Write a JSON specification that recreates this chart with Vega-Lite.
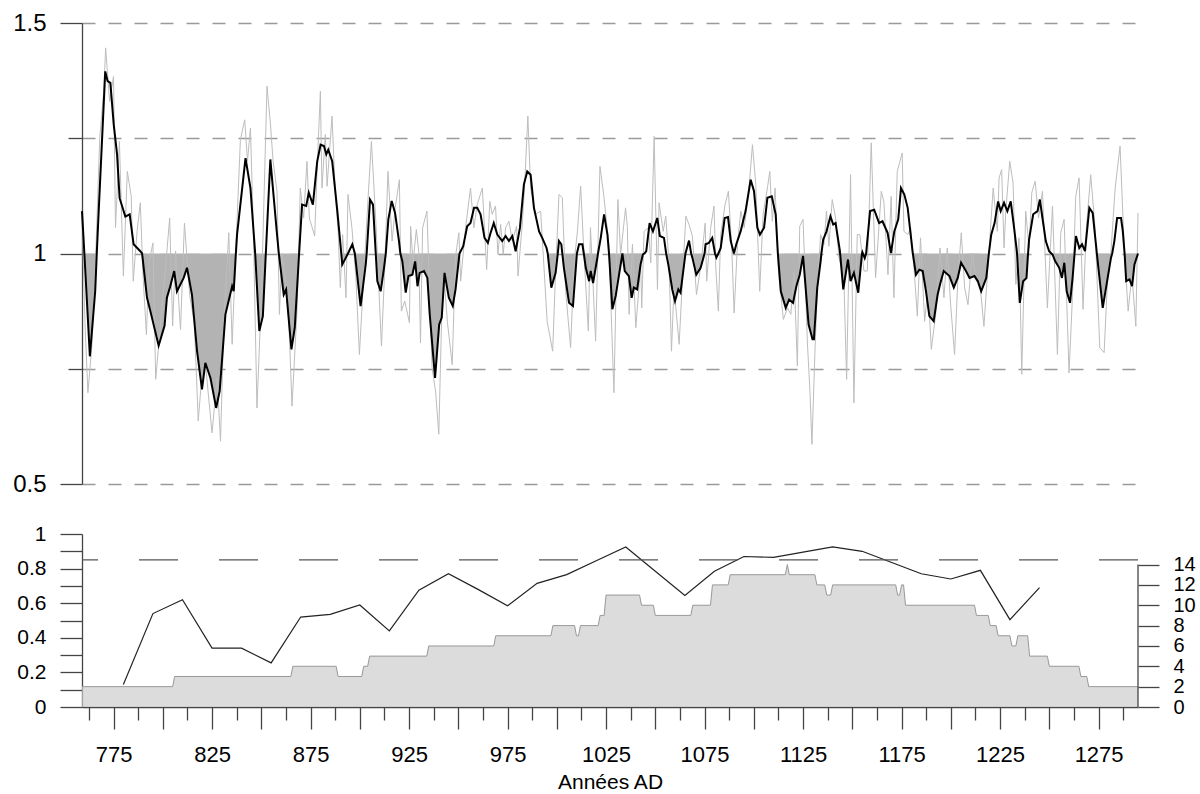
{
"$schema": "https://vega.github.io/schema/vega-lite/v6.json",
"background": "white",
"padding": {"left": 12, "top": 11, "right": 5, "bottom": 2},
"config": {"view": {"stroke": null}, "font": "Liberation Sans",
  "axis": {"labelFont": "Liberation Sans", "titleFont": "Liberation Sans", "labelColor": "#000", "titleColor": "#000", "domainColor": "#444", "tickColor": "#444", "domainWidth": 1.3, "tickWidth": 1.3, "grid": false, "labelOverlap": false, "labelFlush": false, "titleFontWeight": "normal"}},
"spacing": 50,
"bounds": "flush",
"datasets": {
"smooth": [
{"x":759,"s":1.092,"f":1},{"x":760.2,"s":1.0,"f":1},{"x":763,"s":0.777,"f":0.777},{"x":765.7,"s":0.918,"f":0.918},{"x":766.5,"s":1.0,"f":1},{"x":767.4,"s":1.085,"f":1},{"x":770.8,"s":1.395,"f":1},{"x":772,"s":1.374,"f":1},{"x":773.4,"s":1.37,"f":1},{"x":775.1,"s":1.28,"f":1},{"x":776.8,"s":1.215,"f":1},{"x":778.1,"s":1.12,"f":1},{"x":781,"s":1.08,"f":1},{"x":783.2,"s":1.085,"f":1},{"x":785.2,"s":1.02,"f":1},{"x":788.6,"s":1.005,"f":1},{"x":789.5,"s":1.0,"f":1},{"x":792,"s":0.904,"f":0.904},{"x":793.7,"s":0.875,"f":0.875},{"x":797.9,"s":0.8,"f":0.8},{"x":800.9,"s":0.843,"f":0.843},{"x":802.1,"s":0.904,"f":0.904},{"x":803.8,"s":0.929,"f":0.929},{"x":805.8,"s":0.962,"f":0.962},{"x":807.2,"s":0.918,"f":0.918},{"x":810.6,"s":0.947,"f":0.947},{"x":812.3,"s":0.969,"f":0.969},{"x":814.8,"s":0.911,"f":0.911},{"x":817.4,"s":0.788,"f":0.788},{"x":819.9,"s":0.705,"f":0.705},{"x":821.6,"s":0.763,"f":0.763},{"x":824.2,"s":0.73,"f":0.73},{"x":827.1,"s":0.665,"f":0.665},{"x":828.9,"s":0.702,"f":0.702},{"x":831.8,"s":0.868,"f":0.868},{"x":835.2,"s":0.929,"f":0.929},{"x":836,"s":0.918,"f":0.918},{"x":837.1,"s":1.0,"f":1},{"x":837.7,"s":1.041,"f":1},{"x":842,"s":1.207,"f":1},{"x":844.5,"s":1.142,"f":1},{"x":846.9,"s":1.0,"f":1},{"x":849,"s":0.832,"f":0.832},{"x":850.8,"s":0.864,"f":0.864},{"x":852.3,"s":1.0,"f":1},{"x":854.6,"s":1.204,"f":1},{"x":858,"s":1.041,"f":1},{"x":858.9,"s":1.0,"f":1},{"x":861.4,"s":0.911,"f":0.911},{"x":862.6,"s":0.922,"f":0.922},{"x":865.3,"s":0.792,"f":0.792},{"x":867,"s":0.839,"f":0.839},{"x":869.2,"s":1.0,"f":1},{"x":870.7,"s":1.106,"f":1},{"x":872.8,"s":1.103,"f":1},{"x":874.1,"s":1.132,"f":1},{"x":876.2,"s":1.106,"f":1},{"x":878.4,"s":1.2,"f":1},{"x":880.1,"s":1.236,"f":1},{"x":881.8,"s":1.233,"f":1},{"x":883,"s":1.215,"f":1},{"x":884,"s":1.225,"f":1},{"x":886,"s":1.2,"f":1},{"x":888.6,"s":1.092,"f":1},{"x":890.6,"s":1.0,"f":1},{"x":891.1,"s":0.976,"f":0.976},{"x":892.8,"s":0.99,"f":0.99},{"x":894,"s":1.0,"f":1},{"x":896.2,"s":1.02,"f":1},{"x":897.5,"s":1.0,"f":1},{"x":900.4,"s":0.886,"f":0.886},{"x":903,"s":0.976,"f":0.976},{"x":903.5,"s":1.0,"f":1},{"x":905.2,"s":1.117,"f":1},{"x":906.7,"s":1.106,"f":1},{"x":908.1,"s":1.0,"f":1},{"x":908.9,"s":0.94,"f":0.94},{"x":910.6,"s":0.918,"f":0.918},{"x":912.3,"s":0.969,"f":0.969},{"x":913.2,"s":1.0,"f":1},{"x":914.5,"s":1.074,"f":1},{"x":916.2,"s":1.114,"f":1},{"x":917.9,"s":1.088,"f":1},{"x":919.9,"s":1.027,"f":1},{"x":920.6,"s":1.0,"f":1},{"x":921.6,"s":0.983,"f":0.983},{"x":923.3,"s":0.915,"f":0.915},{"x":924.7,"s":0.951,"f":0.951},{"x":926.7,"s":0.954,"f":0.954},{"x":928.1,"s":0.983,"f":0.983},{"x":929.3,"s":0.929,"f":0.929},{"x":930.4,"s":0.958,"f":0.958},{"x":932.6,"s":0.962,"f":0.962},{"x":934.3,"s":0.947,"f":0.947},{"x":935.5,"s":0.868,"f":0.868},{"x":938.2,"s":0.73,"f":0.73},{"x":940.3,"s":0.846,"f":0.846},{"x":941.6,"s":0.861,"f":0.861},{"x":943,"s":0.958,"f":0.958},{"x":945.2,"s":0.904,"f":0.904},{"x":947.2,"s":0.886,"f":0.886},{"x":948.6,"s":0.922,"f":0.922},{"x":950.6,"s":1.0,"f":1},{"x":952.5,"s":1.016,"f":1},{"x":954.5,"s":1.059,"f":1},{"x":956.2,"s":1.066,"f":1},{"x":958,"s":1.099,"f":1},{"x":959.6,"s":1.099,"f":1},{"x":961.3,"s":1.085,"f":1},{"x":963.3,"s":1.034,"f":1},{"x":965,"s":1.023,"f":1},{"x":966.4,"s":1.045,"f":1},{"x":968,"s":1.066,"f":1},{"x":969.8,"s":1.041,"f":1},{"x":972.3,"s":1.027,"f":1},{"x":974,"s":1.038,"f":1},{"x":975.7,"s":1.027,"f":1},{"x":977.4,"s":1.038,"f":1},{"x":979.1,"s":1.005,"f":1},{"x":981.3,"s":1.056,"f":1},{"x":983.3,"s":1.15,"f":1},{"x":985,"s":1.178,"f":1},{"x":986.7,"s":1.171,"f":1},{"x":988.4,"s":1.099,"f":1},{"x":991,"s":1.048,"f":1},{"x":992.6,"s":1.034,"f":1},{"x":994.8,"s":1.012,"f":1},{"x":995.4,"s":1.0,"f":1},{"x":997.2,"s":0.926,"f":0.926},{"x":999.4,"s":0.958,"f":0.958},{"x":1000.5,"s":1.0,"f":1},{"x":1001.1,"s":1.027,"f":1},{"x":1002.3,"s":1.02,"f":1},{"x":1002.8,"s":1.0,"f":1},{"x":1003.6,"s":0.969,"f":0.969},{"x":1006.2,"s":0.893,"f":0.893},{"x":1008.2,"s":0.886,"f":0.886},{"x":1010.2,"s":1.0,"f":1},{"x":1011.3,"s":1.02,"f":1},{"x":1013,"s":1.02,"f":1},{"x":1013.7,"s":1.0,"f":1},{"x":1014.7,"s":0.969,"f":0.969},{"x":1016.4,"s":0.94,"f":0.94},{"x":1017.2,"s":0.962,"f":0.962},{"x":1018.4,"s":0.936,"f":0.936},{"x":1020.6,"s":0.991,"f":0.991},{"x":1020.9,"s":1.0,"f":1},{"x":1022.3,"s":1.034,"f":1},{"x":1024,"s":1.085,"f":1},{"x":1025.7,"s":1.041,"f":1},{"x":1026.5,"s":1.0,"f":1},{"x":1028.2,"s":0.879,"f":0.879},{"x":1029.9,"s":0.908,"f":0.908},{"x":1031.6,"s":0.954,"f":0.954},{"x":1033.3,"s":1.0,"f":1},{"x":1034.5,"s":0.962,"f":0.962},{"x":1036.6,"s":0.951,"f":0.951},{"x":1038,"s":0.904,"f":0.904},{"x":1039.1,"s":0.926,"f":0.926},{"x":1040.8,"s":0.922,"f":0.922},{"x":1042.5,"s":0.976,"f":0.976},{"x":1043.7,"s":0.998,"f":0.998},{"x":1044.5,"s":1.0,"f":1},{"x":1045.4,"s":1.005,"f":1},{"x":1047.1,"s":1.066,"f":1},{"x":1048.8,"s":1.048,"f":1},{"x":1051,"s":1.077,"f":1},{"x":1052.3,"s":1.038,"f":1},{"x":1054.4,"s":1.034,"f":1},{"x":1055.5,"s":1.0,"f":1},{"x":1056.6,"s":0.976,"f":0.976},{"x":1058.6,"s":0.922,"f":0.922},{"x":1060,"s":0.897,"f":0.897},{"x":1061.7,"s":0.922,"f":0.922},{"x":1062.8,"s":0.915,"f":0.915},{"x":1065.3,"s":1.0,"f":1},{"x":1067.1,"s":1.028,"f":1},{"x":1068.2,"s":1.0,"f":1},{"x":1068.8,"s":0.991,"f":0.991},{"x":1070.8,"s":0.954,"f":0.954},{"x":1073,"s":0.969,"f":0.969},{"x":1075,"s":1.0,"f":1},{"x":1075.5,"s":1.02,"f":1},{"x":1077.2,"s":1.023,"f":1},{"x":1078.9,"s":1.034,"f":1},{"x":1080.3,"s":1.0,"f":1},{"x":1081,"s":0.991,"f":0.991},{"x":1082,"s":1.0,"f":1},{"x":1083.2,"s":1.012,"f":1},{"x":1085.2,"s":1.077,"f":1},{"x":1086.9,"s":1.079,"f":1},{"x":1088.3,"s":1.027,"f":1},{"x":1089.9,"s":1.0,"f":1},{"x":1091.1,"s":1.02,"f":1},{"x":1093.3,"s":1.048,"f":1},{"x":1095.8,"s":1.092,"f":1},{"x":1098.4,"s":1.16,"f":1},{"x":1100.1,"s":1.135,"f":1},{"x":1101.8,"s":1.056,"f":1},{"x":1103.1,"s":1.041,"f":1},{"x":1105.2,"s":1.056,"f":1},{"x":1106.9,"s":1.121,"f":1},{"x":1109.1,"s":1.124,"f":1},{"x":1111.1,"s":1.085,"f":1},{"x":1112.2,"s":1.0,"f":1},{"x":1113.7,"s":0.918,"f":0.918},{"x":1116.2,"s":0.882,"f":0.882},{"x":1117.9,"s":0.9,"f":0.9},{"x":1119.9,"s":0.893,"f":0.893},{"x":1121.6,"s":0.929,"f":0.929},{"x":1123.3,"s":0.954,"f":0.954},{"x":1125,"s":0.995,"f":0.995},{"x":1127.8,"s":0.846,"f":0.846},{"x":1129.8,"s":0.814,"f":0.814},{"x":1130.5,"s":0.814,"f":0.814},{"x":1132.2,"s":0.926,"f":0.926},{"x":1133.9,"s":0.983,"f":0.983},{"x":1134.3,"s":1.0,"f":1},{"x":1135.2,"s":1.03,"f":1},{"x":1136.9,"s":1.048,"f":1},{"x":1138.9,"s":1.081,"f":1},{"x":1140.3,"s":1.063,"f":1},{"x":1141.5,"s":1.066,"f":1},{"x":1143.7,"s":1.005,"f":1},{"x":1143.8,"s":1.0,"f":1},{"x":1145.4,"s":0.922,"f":0.922},{"x":1147.8,"s":0.987,"f":0.987},{"x":1149.1,"s":0.94,"f":0.94},{"x":1150.8,"s":0.958,"f":0.958},{"x":1153,"s":0.915,"f":0.915},{"x":1154.9,"s":1.0,"f":1},{"x":1155.1,"s":1.003,"f":1},{"x":1156.3,"s":0.99,"f":0.99},{"x":1157,"s":1.0,"f":1},{"x":1159,"s":1.092,"f":1},{"x":1161.1,"s":1.095,"f":1},{"x":1163.6,"s":1.066,"f":1},{"x":1165.3,"s":1.07,"f":1},{"x":1167.9,"s":1.045,"f":1},{"x":1169.6,"s":1.001,"f":1},{"x":1171.3,"s":1.048,"f":1},{"x":1173.3,"s":1.074,"f":1},{"x":1174.7,"s":1.142,"f":1},{"x":1176.4,"s":1.128,"f":1},{"x":1178.1,"s":1.099,"f":1},{"x":1179.8,"s":1.034,"f":1},{"x":1180.7,"s":1.0,"f":1},{"x":1182.3,"s":0.954,"f":0.954},{"x":1184,"s":0.965,"f":0.965},{"x":1185.7,"s":0.962,"f":0.962},{"x":1187.4,"s":0.918,"f":0.918},{"x":1189.1,"s":0.864,"f":0.864},{"x":1191.3,"s":0.853,"f":0.853},{"x":1193.3,"s":0.911,"f":0.911},{"x":1194.7,"s":0.936,"f":0.936},{"x":1196.4,"s":0.962,"f":0.962},{"x":1199.3,"s":0.951,"f":0.951},{"x":1201.5,"s":0.926,"f":0.926},{"x":1203.5,"s":0.947,"f":0.947},{"x":1205.2,"s":0.98,"f":0.98},{"x":1207.3,"s":0.965,"f":0.965},{"x":1209.5,"s":0.947,"f":0.947},{"x":1212,"s":0.951,"f":0.951},{"x":1213.7,"s":0.94,"f":0.94},{"x":1215.4,"s":0.918,"f":0.918},{"x":1218,"s":0.947,"f":0.947},{"x":1219.3,"s":1.0,"f":1},{"x":1220.5,"s":1.041,"f":1},{"x":1222.2,"s":1.066,"f":1},{"x":1224,"s":1.113,"f":1},{"x":1225.3,"s":1.092,"f":1},{"x":1227,"s":1.11,"f":1},{"x":1228.7,"s":1.092,"f":1},{"x":1230.4,"s":1.113,"f":1},{"x":1232.1,"s":1.056,"f":1},{"x":1233.3,"s":1.012,"f":1},{"x":1233.6,"s":1.0,"f":1},{"x":1235,"s":0.893,"f":0.893},{"x":1236.7,"s":0.94,"f":0.94},{"x":1238.4,"s":0.947,"f":0.947},{"x":1239.2,"s":1.0,"f":1},{"x":1239.7,"s":1.03,"f":1},{"x":1241.8,"s":1.085,"f":1},{"x":1244,"s":1.092,"f":1},{"x":1245.2,"s":1.117,"f":1},{"x":1246.5,"s":1.077,"f":1},{"x":1248.2,"s":1.027,"f":1},{"x":1249.9,"s":1.005,"f":1},{"x":1251,"s":1.0,"f":1},{"x":1251.6,"s":0.998,"f":0.998},{"x":1253,"s":0.983,"f":0.983},{"x":1255,"s":0.969,"f":0.969},{"x":1256.4,"s":0.947,"f":0.947},{"x":1257.6,"s":0.98,"f":0.98},{"x":1258.8,"s":0.918,"f":0.918},{"x":1260.5,"s":0.893,"f":0.893},{"x":1261.8,"s":0.947,"f":0.947},{"x":1262.8,"s":1.0,"f":1},{"x":1263.5,"s":1.038,"f":1},{"x":1265.2,"s":1.012,"f":1},{"x":1266.6,"s":1.02,"f":1},{"x":1268.1,"s":1.005,"f":1},{"x":1270.3,"s":1.099,"f":1},{"x":1272,"s":1.088,"f":1},{"x":1274,"s":1.005,"f":1},{"x":1274.1,"s":1.0,"f":1},{"x":1277.1,"s":0.882,"f":0.882},{"x":1279.6,"s":0.947,"f":0.947},{"x":1281.3,"s":0.991,"f":0.991},{"x":1281.9,"s":1.0,"f":1},{"x":1283,"s":1.027,"f":1},{"x":1284.4,"s":1.077,"f":1},{"x":1286.4,"s":1.077,"f":1},{"x":1287.3,"s":1.048,"f":1},{"x":1288.2,"s":1.0,"f":1},{"x":1289,"s":0.94,"f":0.94},{"x":1290.7,"s":0.944,"f":0.944},{"x":1292,"s":0.929,"f":0.929},{"x":1293.2,"s":0.976,"f":0.976},{"x":1295,"s":1.0,"f":1}
],
"annual": [
{"x":759,"v":1.09},{"x":760.5,"v":0.85},{"x":762,"v":0.698},{"x":764,"v":0.8},{"x":766,"v":1.0},{"x":768,"v":1.25},{"x":770,"v":1.35},{"x":771,"v":1.446},{"x":773,"v":1.33},{"x":775,"v":1.384},{"x":776,"v":1.056},{"x":778,"v":1.243},{"x":780,"v":0.951},{"x":782,"v":1.178},{"x":784,"v":1.124},{"x":785,"v":0.94},{"x":787,"v":1.05},{"x":788.6,"v":1.11},{"x":790,"v":0.95},{"x":791.7,"v":0.824},{"x":793,"v":0.98},{"x":795,"v":1.023},{"x":796.4,"v":0.727},{"x":799,"v":0.853},{"x":801,"v":0.95},{"x":803.5,"v":1.077},{"x":805,"v":0.843},{"x":806.5,"v":1.005},{"x":809,"v":0.835},{"x":811,"v":1.066},{"x":813.7,"v":0.908},{"x":816,"v":0.85},{"x":818,"v":0.637},{"x":819.6,"v":0.723},{"x":821.6,"v":0.767},{"x":823,"v":0.7},{"x":825,"v":0.611},{"x":827.6,"v":0.73},{"x":829.3,"v":0.593},{"x":831,"v":0.85},{"x":833.5,"v":1.045},{"x":835.2,"v":0.803},{"x":837,"v":1.0},{"x":839.4,"v":1.247},{"x":841.6,"v":1.29},{"x":843,"v":1.2},{"x":844.5,"v":1.272},{"x":846,"v":1.05},{"x":847.8,"v":0.665},{"x":850,"v":0.9},{"x":852.9,"v":1.363},{"x":854.6,"v":1.283},{"x":856,"v":1.2},{"x":858,"v":1.135},{"x":859.2,"v":0.868},{"x":860.5,"v":1.0},{"x":862.2,"v":0.947},{"x":864,"v":0.85},{"x":865.6,"v":0.669},{"x":868.2,"v":0.882},{"x":869.8,"v":1.142},{"x":871.5,"v":1.077},{"x":873.2,"v":1.2},{"x":874.4,"v":1.077},{"x":877.1,"v":1.038},{"x":878.5,"v":1.2},{"x":880,"v":1.352},{"x":880.8,"v":1.142},{"x":882.5,"v":1.258},{"x":883.4,"v":1.146},{"x":885.9,"v":1.298},{"x":887.6,"v":1.128},{"x":889,"v":1.05},{"x":890.1,"v":0.926},{"x":891.3,"v":1.041},{"x":893,"v":0.904},{"x":894,"v":1.128},{"x":896,"v":1.056},{"x":898,"v":0.95},{"x":899.8,"v":0.781},{"x":902,"v":0.95},{"x":904.5,"v":1.142},{"x":905.9,"v":1.243},{"x":908.3,"v":1.056},{"x":911,"v":0.799},{"x":912.5,"v":0.95},{"x":914.3,"v":1.178},{"x":916.4,"v":1.027},{"x":918,"v":1.1},{"x":920.1,"v":1.16},{"x":921.1,"v":0.875},{"x":922.8,"v":0.897},{"x":925.2,"v":0.85},{"x":925.8,"v":1.059},{"x":927,"v":0.98},{"x":928.7,"v":1.052},{"x":929.9,"v":1.005},{"x":930.8,"v":0.806},{"x":931.9,"v":1.056},{"x":934.1,"v":1.092},{"x":935.5,"v":0.9},{"x":936.7,"v":0.752},{"x":938.5,"v":0.7},{"x":940.1,"v":0.608},{"x":941.8,"v":0.904},{"x":942.7,"v":0.954},{"x":944.5,"v":0.85},{"x":946.9,"v":0.759},{"x":948.6,"v":0.994},{"x":950.3,"v":1.045},{"x":951.2,"v":0.94},{"x":953.7,"v":1.056},{"x":956.2,"v":1.142},{"x":957.9,"v":1.056},{"x":959.6,"v":1.106},{"x":962.2,"v":1.142},{"x":964.4,"v":0.965},{"x":966,"v":1.113},{"x":967.2,"v":1.085},{"x":968.9,"v":1.103},{"x":970.1,"v":0.998},{"x":971.5,"v":1.063},{"x":972.8,"v":0.998},{"x":974,"v":1.056},{"x":975.7,"v":1.07},{"x":977.4,"v":1.027},{"x":979.6,"v":1.059},{"x":980.3,"v":0.951},{"x":982.5,"v":1.066},{"x":983.6,"v":1.142},{"x":985.3,"v":1.298},{"x":986.7,"v":1.142},{"x":989.2,"v":1.085},{"x":991.8,"v":1.092},{"x":993.5,"v":0.969},{"x":995.1,"v":0.853},{"x":997.9,"v":0.788},{"x":999.4,"v":0.962},{"x":1001.1,"v":1.128},{"x":1002.8,"v":1.121},{"x":1004.5,"v":0.918},{"x":1007,"v":0.796},{"x":1008.7,"v":0.976},{"x":1010.5,"v":1.05},{"x":1012.1,"v":1.146},{"x":1013.8,"v":0.998},{"x":1016,"v":0.832},{"x":1017.1,"v":1.056},{"x":1019.7,"v":0.81},{"x":1021.9,"v":1.189},{"x":1023.9,"v":1.124},{"x":1026.4,"v":1.02},{"x":1029,"v":0.698},{"x":1031,"v":1.117},{"x":1032.4,"v":0.998},{"x":1034.9,"v":1.099},{"x":1035.8,"v":1.059},{"x":1036.7,"v":0.868},{"x":1038.4,"v":1.02},{"x":1040.1,"v":0.839},{"x":1042.6,"v":0.976},{"x":1043.1,"v":0.882},{"x":1044.3,"v":1.048},{"x":1046.5,"v":1.056},{"x":1047.7,"v":0.98},{"x":1049.4,"v":1.254},{"x":1051.1,"v":0.922},{"x":1051.9,"v":1.11},{"x":1054,"v":1.048},{"x":1055.3,"v":1.081},{"x":1057,"v":0.976},{"x":1058.2,"v":0.788},{"x":1059.5,"v":0.926},{"x":1062.1,"v":0.803},{"x":1063.8,"v":0.947},{"x":1065.5,"v":1.081},{"x":1067.1,"v":1.063},{"x":1068.8,"v":1.038},{"x":1070.9,"v":0.911},{"x":1073.1,"v":0.973},{"x":1075.3,"v":1.066},{"x":1076.1,"v":0.94},{"x":1078.1,"v":1.056},{"x":1079.8,"v":1.103},{"x":1080.7,"v":0.969},{"x":1082,"v":0.875},{"x":1083.2,"v":1.041},{"x":1085.4,"v":1.106},{"x":1087.1,"v":1.135},{"x":1088.8,"v":1.012},{"x":1090,"v":0.871},{"x":1091.7,"v":1.02},{"x":1093.4,"v":1.092},{"x":1095.1,"v":1.056},{"x":1097.3,"v":1.128},{"x":1099.3,"v":1.236},{"x":1101,"v":1.15},{"x":1103,"v":0.918},{"x":1104.7,"v":1.085},{"x":1106.9,"v":1.142},{"x":1108.1,"v":1.178},{"x":1109.4,"v":1.07},{"x":1110.8,"v":1.142},{"x":1112.5,"v":0.962},{"x":1115,"v":0.857},{"x":1117.1,"v":0.882},{"x":1118.8,"v":0.868},{"x":1120.4,"v":0.962},{"x":1122.1,"v":0.756},{"x":1123.3,"v":1.059},{"x":1125,"v":1.074},{"x":1127.2,"v":0.806},{"x":1128.5,"v":0.7},{"x":1129.5,"v":0.586},{"x":1131.1,"v":0.796},{"x":1132.2,"v":0.918},{"x":1133.9,"v":1.041},{"x":1135.6,"v":1.02},{"x":1136.9,"v":1.092},{"x":1138.1,"v":1.016},{"x":1139.8,"v":1.117},{"x":1141.5,"v":1.077},{"x":1143.2,"v":0.991},{"x":1145.7,"v":0.947},{"x":1147.1,"v":0.727},{"x":1149.1,"v":1.171},{"x":1150.8,"v":0.676},{"x":1152.5,"v":1.041},{"x":1153.8,"v":1.041},{"x":1155.9,"v":0.962},{"x":1157.6,"v":0.962},{"x":1159.6,"v":1.24},{"x":1161.8,"v":0.947},{"x":1164.7,"v":1.135},{"x":1166,"v":1.113},{"x":1168.1,"v":0.954},{"x":1169.7,"v":1.124},{"x":1171.1,"v":0.904},{"x":1172.8,"v":1.178},{"x":1175.3,"v":1.218},{"x":1176.2,"v":1.048},{"x":1178.2,"v":1.041},{"x":1179.6,"v":1.056},{"x":1181.3,"v":0.969},{"x":1183,"v":0.864},{"x":1184.6,"v":1.034},{"x":1186.7,"v":0.853},{"x":1188.4,"v":0.926},{"x":1190.1,"v":0.792},{"x":1192.3,"v":0.868},{"x":1194.5,"v":1.012},{"x":1196.5,"v":0.904},{"x":1198.2,"v":1.012},{"x":1199.9,"v":0.889},{"x":1201.9,"v":0.781},{"x":1203.6,"v":0.947},{"x":1205.3,"v":1.045},{"x":1207,"v":0.926},{"x":1208.7,"v":0.889},{"x":1210.9,"v":1.001},{"x":1212.9,"v":0.94},{"x":1214.8,"v":0.933},{"x":1216.8,"v":0.842},{"x":1219.3,"v":1.001},{"x":1221.5,"v":1.142},{"x":1223.6,"v":1.048},{"x":1224.5,"v":1.164},{"x":1225.8,"v":1.182},{"x":1227,"v":1.012},{"x":1227.9,"v":1.092},{"x":1229.9,"v":1.2},{"x":1231.6,"v":1.153},{"x":1233,"v":0.933},{"x":1234.6,"v":1.034},{"x":1236,"v":0.738},{"x":1238,"v":1.092},{"x":1239.7,"v":1.012},{"x":1241.1,"v":1.132},{"x":1242.8,"v":1.157},{"x":1244.5,"v":1.077},{"x":1246.5,"v":1.135},{"x":1249,"v":0.882},{"x":1251.6,"v":1.103},{"x":1254.1,"v":0.781},{"x":1255.8,"v":1.045},{"x":1257.5,"v":1.074},{"x":1260,"v":0.741},{"x":1261.7,"v":0.904},{"x":1263.4,"v":1.124},{"x":1265.1,"v":1.164},{"x":1267.1,"v":0.879},{"x":1268.8,"v":1.056},{"x":1271,"v":1.171},{"x":1273.2,"v":1.056},{"x":1275.6,"v":0.796},{"x":1277.8,"v":0.785},{"x":1279.5,"v":0.94},{"x":1281.2,"v":0.998},{"x":1283.4,"v":1.142},{"x":1285.9,"v":1.233},{"x":1288,"v":1.012},{"x":1290,"v":0.875},{"x":1291.9,"v":0.954},{"x":1293.9,"v":0.842},{"x":1295,"v":1.088}
],
"depth": [
{"x":759,"n":2},{"x":805,"n":2},{"x":806,"n":3},{"x":865,"n":3},{"x":866,"n":4},{"x":888,"n":4},{"x":889,"n":3},{"x":901,"n":3},{"x":902,"n":4},{"x":904,"n":4},{"x":905,"n":5},{"x":934,"n":5},{"x":935,"n":6},{"x":968,"n":6},{"x":969,"n":7},{"x":997,"n":7},{"x":998,"n":8},{"x":1009,"n":8},{"x":1010,"n":7},{"x":1011,"n":7},{"x":1012,"n":8},{"x":1021,"n":8},{"x":1022,"n":9},{"x":1024,"n":9},{"x":1025,"n":11},{"x":1042,"n":11},{"x":1043,"n":10},{"x":1049,"n":10},{"x":1050,"n":9},{"x":1068,"n":9},{"x":1069,"n":10},{"x":1078,"n":10},{"x":1079,"n":12},{"x":1087,"n":12},{"x":1088,"n":13},{"x":1116,"n":13},{"x":1117,"n":14},{"x":1118,"n":13},{"x":1131,"n":13},{"x":1132,"n":12},{"x":1136,"n":12},{"x":1137,"n":11},{"x":1139,"n":11},{"x":1140,"n":12},{"x":1172,"n":12},{"x":1173,"n":11},{"x":1174,"n":11},{"x":1175,"n":12},{"x":1176,"n":12},{"x":1177,"n":10},{"x":1212,"n":10},{"x":1213,"n":9},{"x":1219,"n":9},{"x":1220,"n":8},{"x":1223,"n":8},{"x":1224,"n":7},{"x":1230,"n":7},{"x":1231,"n":6},{"x":1233,"n":6},{"x":1234,"n":7},{"x":1239,"n":7},{"x":1240,"n":5},{"x":1249,"n":5},{"x":1250,"n":4},{"x":1265,"n":4},{"x":1266,"n":3},{"x":1269,"n":3},{"x":1270,"n":2},{"x":1295,"n":2}
],
"eps": [
{"x":780,"e":0.13},{"x":795,"e":0.54},{"x":810,"e":0.62},{"x":825,"e":0.34},{"x":840,"e":0.34},{"x":855,"e":0.255},{"x":870,"e":0.52},{"x":885,"e":0.535},{"x":900,"e":0.59},{"x":915,"e":0.44},{"x":930,"e":0.675},{"x":945,"e":0.77},{"x":960,"e":0.68},{"x":975,"e":0.585},{"x":990,"e":0.715},{"x":1005,"e":0.765},{"x":1020,"e":0.845},{"x":1035,"e":0.925},{"x":1050,"e":0.785},{"x":1065,"e":0.645},{"x":1080,"e":0.785},{"x":1095,"e":0.87},{"x":1110,"e":0.865},{"x":1125,"e":0.895},{"x":1140,"e":0.925},{"x":1155,"e":0.9},{"x":1170,"e":0.835},{"x":1185,"e":0.77},{"x":1200,"e":0.74},{"x":1215,"e":0.79},{"x":1230,"e":0.505},{"x":1245,"e":0.69}
]
},
"vconcat": [
{
 "width": 1056, "height": 461,
 "layer": [
  {"data": {"name": "smooth"}, "mark": {"type": "area", "color": "#b3b3b3"},
   "encoding": {
    "x": {"field": "x", "type": "quantitative", "scale": {"domain": [759, 1295], "nice": false, "zero": false}, "axis": null},
    "y": {"field": "f", "type": "quantitative", "scale": {"domain": [0.5, 1.5], "nice": false, "zero": false},
      "axis": {"values": [0.5, 0.75, 1, 1.25, 1.5], "tickCount": 100, "title": null, "grid": true, "gridDash": [13, 13], "gridColor": "#9a9a9a", "gridWidth": 1.5,
        "labelExpr": "datum.value == 1.5 ? '1.5' : datum.value == 1 ? '1' : datum.value == 0.5 ? '0.5' : ''",
        "labelFontSize": 24, "labelPadding": 14,
        "tickSize": {"condition": {"test": "datum.value == 0.75 || datum.value == 1.25", "value": 14}, "value": 22}}},
    "y2": {"datum": 1}}},
  {"data": {"name": "annual"}, "mark": {"type": "line", "color": "#bdbdbd", "strokeWidth": 1},
   "encoding": {"x": {"field": "x", "type": "quantitative"}, "y": {"field": "v", "type": "quantitative"}}},
  {"data": {"name": "smooth"}, "mark": {"type": "line", "color": "#000000", "strokeWidth": 2},
   "encoding": {"x": {"field": "x", "type": "quantitative"}, "y": {"field": "s", "type": "quantitative"}}}
 ]
},
{
 "width": 1056, "height": 173,
 "layer": [
  {"layer": [
    {"data": {"name": "depth"}, "mark": {"type": "area", "color": "#cdcdcd", "line": {"color": "#999999", "strokeWidth": 1}},
     "encoding": {
      "x": {"field": "x", "type": "quantitative", "scale": {"domain": [759, 1295], "nice": false, "zero": false},
        "axis": {"values": [762.5, 775, 787.5, 800, 812.5, 825, 837.5, 850, 862.5, 875, 887.5, 900, 912.5, 925, 937.5, 950, 962.5, 975, 987.5, 1000, 1012.5, 1025, 1037.5, 1050, 1062.5, 1075, 1087.5, 1100, 1112.5, 1125, 1137.5, 1150, 1162.5, 1175, 1187.5, 1200, 1212.5, 1225, 1237.5, 1250, 1262.5, 1275, 1287.5],
          "tickCount": 100, "format": "d", "labelExpr": "(datum.value - 775) % 50 == 0 ? datum.label : ''",
          "tickSize": {"condition": {"test": "(datum.value - 762.5) % 25 == 0", "value": 13}, "value": 22},
          "labelFontSize": 22, "labelPadding": 15, "title": "Années AD", "titleFontSize": 21, "titlePadding": 6}},
      "y": {"field": "n", "type": "quantitative", "scale": {"domain": [0, 17], "nice": false, "zero": true},
        "axis": {"orient": "right", "values": [0, 2, 4, 6, 8, 10, 12, 14], "tickCount": 100, "format": "d", "domain": false, "tickSize": 21, "labelPadding": 14, "labelFontSize": 20, "title": null}}}},
    {"data": {"values": [{}]}, "mark": {"type": "rule", "color": "#444444", "strokeWidth": 1.3},
     "encoding": {"x": {"datum": 1295, "type": "quantitative"}, "y": {"datum": 0, "type": "quantitative"}, "y2": {"datum": 14}}}
  ]},
  {"layer": [
    {"data": {"name": "eps"}, "mark": {"type": "line", "color": "#222222", "strokeWidth": 1.2},
     "encoding": {
      "x": {"field": "x", "type": "quantitative"},
      "y": {"field": "e", "type": "quantitative", "scale": {"domain": [0, 1], "nice": false},
        "axis": {"orient": "left", "values": [0, 0.1, 0.2, 0.3, 0.4, 0.5, 0.6, 0.7, 0.8, 0.9, 1], "tickCount": 100, "title": null, "tickSize": 22, "labelPadding": 14, "labelFontSize": 21,
          "labelExpr": "indexof([0, 0.2, 0.4, 0.6, 0.8, 1], datum.value) >= 0 ? format(datum.value, '~g') : ''"}}}},
    {"data": {"values": [{}]}, "mark": {"type": "rule", "color": "#555555", "strokeWidth": 1.3, "strokeDash": [39, 41]},
     "encoding": {"y": {"datum": 0.85, "type": "quantitative"}}}
  ]}
 ],
 "resolve": {"scale": {"y": "independent"}}
}
]
}
